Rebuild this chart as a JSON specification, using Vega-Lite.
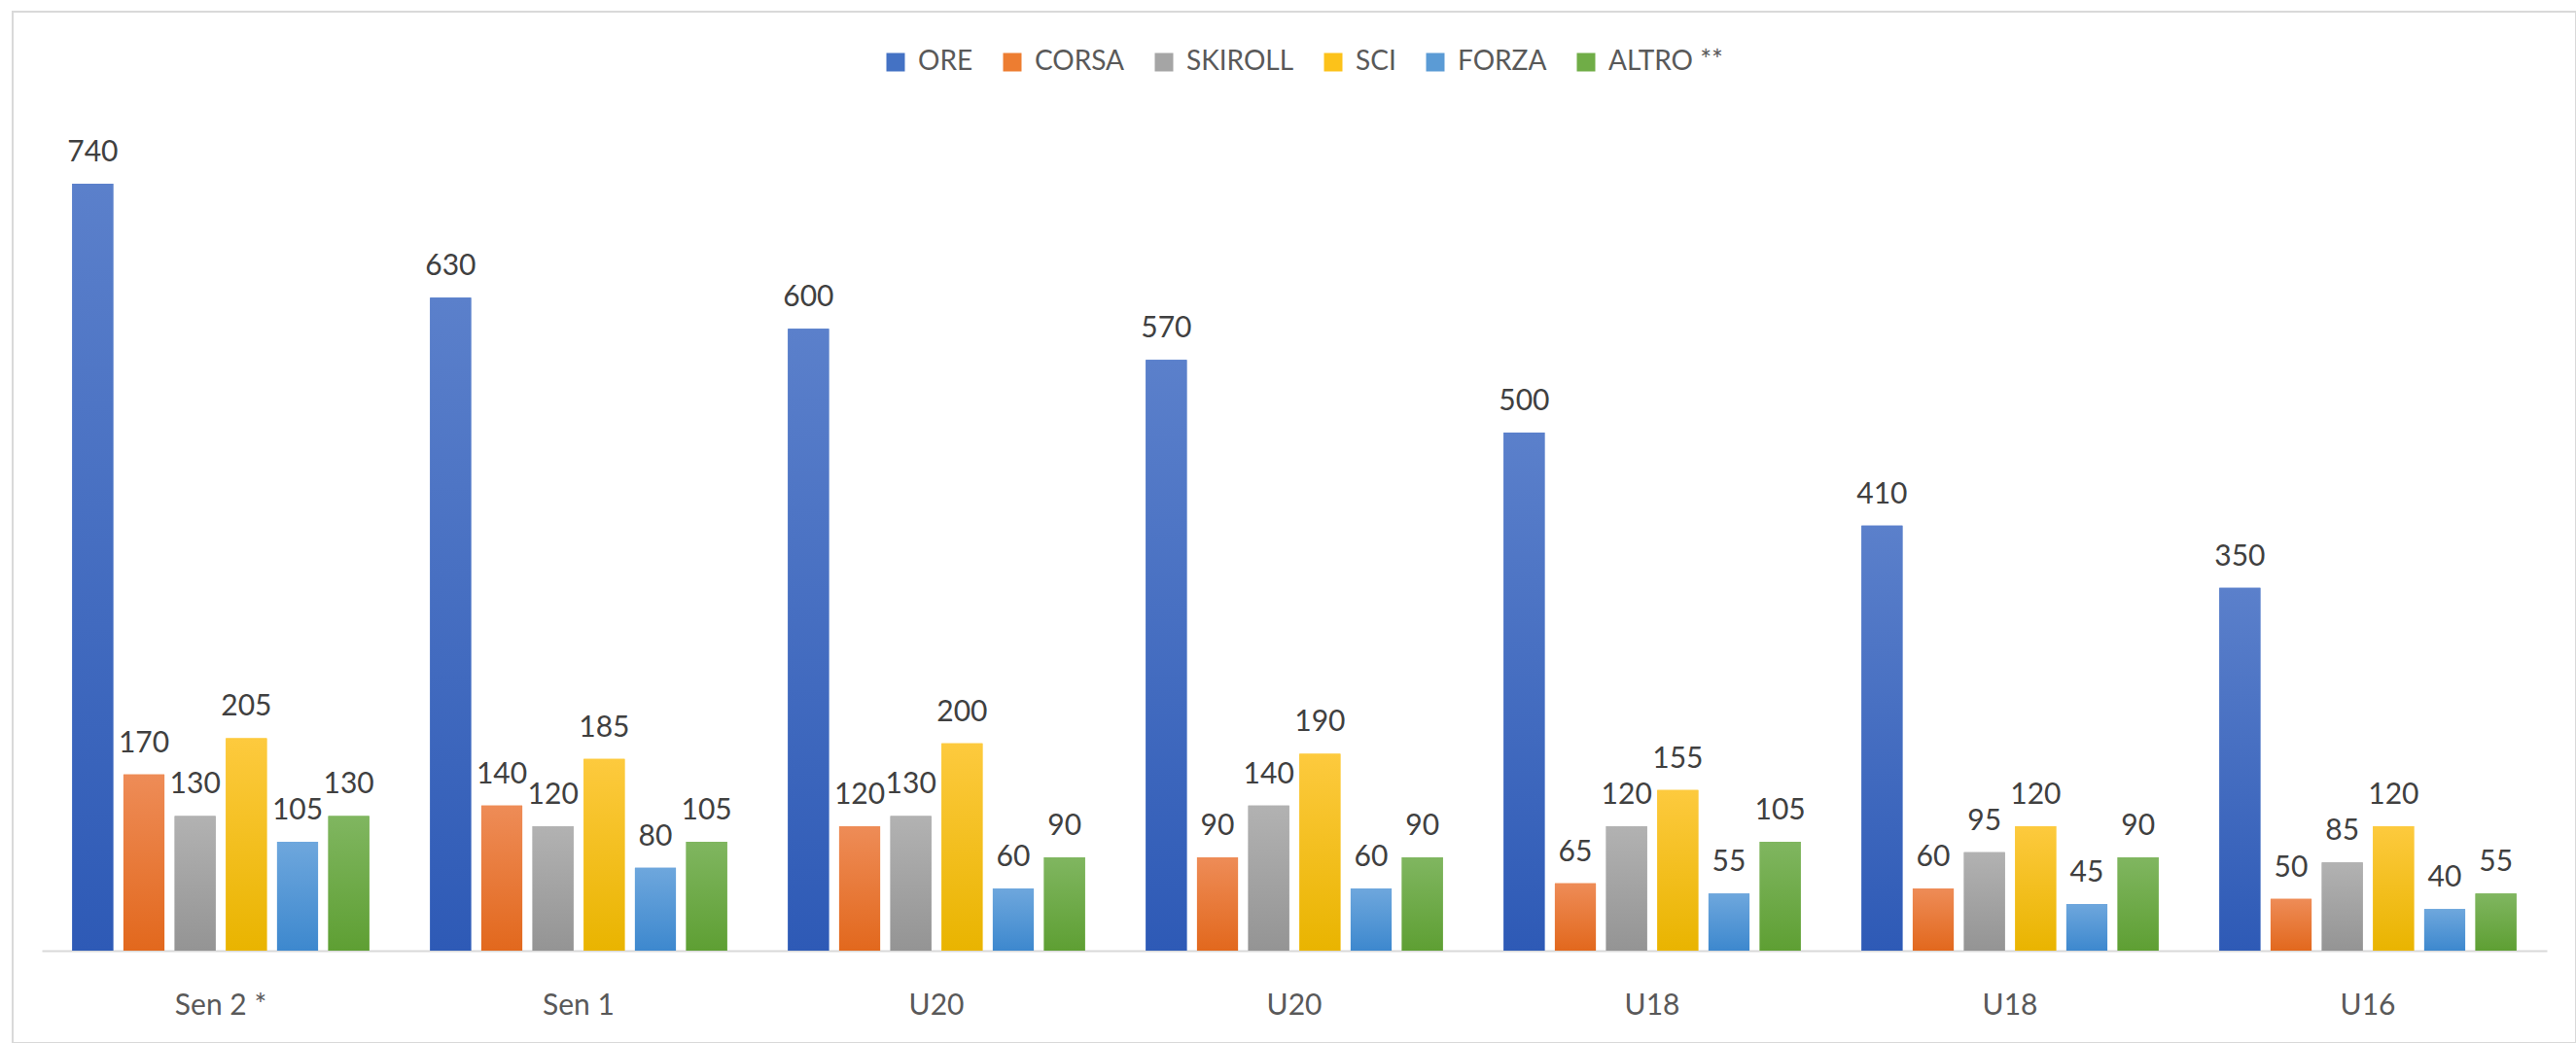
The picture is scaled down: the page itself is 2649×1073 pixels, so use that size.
{
  "$schema": "https://vega.github.io/schema/vega-lite/v6.json",
  "width": 2636,
  "height": 1061,
  "autosize": {"type": "none"},
  "padding": {"left": 13, "top": 12, "right": 0, "bottom": 0},
  "background": "white",
  "config": {"view": {"stroke": "#d9d9d9", "strokeWidth": 2}, "font": "Lato"},
  "data": {
    "values": [
      {"cat": "Sen 2 *", "series": "ORE", "value": 740},
      {"cat": "Sen 2 *", "series": "CORSA", "value": 170},
      {"cat": "Sen 2 *", "series": "SKIROLL", "value": 130},
      {"cat": "Sen 2 *", "series": "SCI", "value": 205},
      {"cat": "Sen 2 *", "series": "FORZA", "value": 105},
      {"cat": "Sen 2 *", "series": "ALTRO **", "value": 130},
      {"cat": "Sen 1", "series": "ORE", "value": 630},
      {"cat": "Sen 1", "series": "CORSA", "value": 140},
      {"cat": "Sen 1", "series": "SKIROLL", "value": 120},
      {"cat": "Sen 1", "series": "SCI", "value": 185},
      {"cat": "Sen 1", "series": "FORZA", "value": 80},
      {"cat": "Sen 1", "series": "ALTRO **", "value": 105},
      {"cat": "U20", "series": "ORE", "value": 600},
      {"cat": "U20", "series": "CORSA", "value": 120},
      {"cat": "U20", "series": "SKIROLL", "value": 130},
      {"cat": "U20", "series": "SCI", "value": 200},
      {"cat": "U20", "series": "FORZA", "value": 60},
      {"cat": "U20", "series": "ALTRO **", "value": 90},
      {"cat": "U20 ", "series": "ORE", "value": 570},
      {"cat": "U20 ", "series": "CORSA", "value": 90},
      {"cat": "U20 ", "series": "SKIROLL", "value": 140},
      {"cat": "U20 ", "series": "SCI", "value": 190},
      {"cat": "U20 ", "series": "FORZA", "value": 60},
      {"cat": "U20 ", "series": "ALTRO **", "value": 90},
      {"cat": "U18", "series": "ORE", "value": 500},
      {"cat": "U18", "series": "CORSA", "value": 65},
      {"cat": "U18", "series": "SKIROLL", "value": 120},
      {"cat": "U18", "series": "SCI", "value": 155},
      {"cat": "U18", "series": "FORZA", "value": 55},
      {"cat": "U18", "series": "ALTRO **", "value": 105},
      {"cat": "U18 ", "series": "ORE", "value": 410},
      {"cat": "U18 ", "series": "CORSA", "value": 60},
      {"cat": "U18 ", "series": "SKIROLL", "value": 95},
      {"cat": "U18 ", "series": "SCI", "value": 120},
      {"cat": "U18 ", "series": "FORZA", "value": 45},
      {"cat": "U18 ", "series": "ALTRO **", "value": 90},
      {"cat": "U16", "series": "ORE", "value": 350},
      {"cat": "U16", "series": "CORSA", "value": 50},
      {"cat": "U16", "series": "SKIROLL", "value": 85},
      {"cat": "U16", "series": "SCI", "value": 120},
      {"cat": "U16", "series": "FORZA", "value": 40},
      {"cat": "U16", "series": "ALTRO **", "value": 55}
    ]
  },
  "encoding": {
    "x": {
      "field": "cat",
      "type": "nominal",
      "sort": null,
      "scale": {"range": [30, 2606], "paddingInner": 0.17, "paddingOuter": 0.085},
      "axis": {
        "title": null,
        "labelAngle": 0,
        "ticks": false,
        "tickSize": 0,
        "domainColor": "#d9d9d9",
        "domainWidth": 2,
        "labelFont": "Lato",
        "labelFontSize": 30,
        "labelColor": "#595959",
        "labelPadding": 41,
        "offset": -95,
        "labelExpr": "trim(datum.label)"
      }
    },
    "xOffset": {
      "field": "series",
      "type": "nominal",
      "sort": ["ORE", "CORSA", "SKIROLL", "SCI", "FORZA", "ALTRO **"],
      "scale": {"domain": ["ORE", "CORSA", "SKIROLL", "SCI", "FORZA", "ALTRO **"], "paddingInner": 0.2, "paddingOuter": 0}
    },
    "y": {
      "field": "value",
      "type": "quantitative",
      "scale": {"domain": [0, 800], "range": [966, 113], "nice": false, "zero": true},
      "axis": null
    }
  },
  "layer": [
    {
      "mark": {"type": "bar"},
      "encoding": {
        "color": {
          "field": "series",
          "type": "nominal",
          "sort": ["ORE", "CORSA", "SKIROLL", "SCI", "FORZA", "ALTRO **"],
          "scale": {
            "domain": ["ORE", "CORSA", "SKIROLL", "SCI", "FORZA", "ALTRO **"],
            "range": ["#4472c4", "#ed7d31", "#a5a5a5", "#fcc21a", "#5b9bd5", "#70ad47"]
          },
          "legend": {
            "orient": "none",
            "direction": "horizontal",
            "columns": 6,
            "legendX": 894,
            "legendY": 38,
            "title": null,
            "symbolType": "square",
            "symbolSize": 361,
            "symbolStrokeWidth": 0,
            "symbolOpacity": 1,
            "labelFont": "Lato",
            "labelFontSize": 28,
            "labelColor": "#595959",
            "labelOffset": 9,
            "columnPadding": 26
          }
        }
      }
    },
    {
      "transform": [{"filter": "datum.series === 'ORE'"}],
      "mark": {"type": "bar", "color": {"gradient": "linear", "x1": 0, "y1": 0, "x2": 0, "y2": 1, "stops": [{"offset": 0, "color": "#5b80cb"}, {"offset": 1, "color": "#2e5ab6"}]}}
    },
    {
      "transform": [{"filter": "datum.series === 'CORSA'"}],
      "mark": {"type": "bar", "color": {"gradient": "linear", "x1": 0, "y1": 0, "x2": 0, "y2": 1, "stops": [{"offset": 0, "color": "#ee8c57"}, {"offset": 1, "color": "#e2681d"}]}}
    },
    {
      "transform": [{"filter": "datum.series === 'SKIROLL'"}],
      "mark": {"type": "bar", "color": {"gradient": "linear", "x1": 0, "y1": 0, "x2": 0, "y2": 1, "stops": [{"offset": 0, "color": "#b2b2b2"}, {"offset": 1, "color": "#949494"}]}}
    },
    {
      "transform": [{"filter": "datum.series === 'SCI'"}],
      "mark": {"type": "bar", "color": {"gradient": "linear", "x1": 0, "y1": 0, "x2": 0, "y2": 1, "stops": [{"offset": 0, "color": "#fdca3e"}, {"offset": 1, "color": "#e9b400"}]}}
    },
    {
      "transform": [{"filter": "datum.series === 'FORZA'"}],
      "mark": {"type": "bar", "color": {"gradient": "linear", "x1": 0, "y1": 0, "x2": 0, "y2": 1, "stops": [{"offset": 0, "color": "#6ea7dd"}, {"offset": 1, "color": "#3d88ce"}]}}
    },
    {
      "transform": [{"filter": "datum.series === 'ALTRO **'"}],
      "mark": {"type": "bar", "color": {"gradient": "linear", "x1": 0, "y1": 0, "x2": 0, "y2": 1, "stops": [{"offset": 0, "color": "#80b660"}, {"offset": 1, "color": "#5e9f33"}]}}
    },
    {
      "mark": {"type": "text", "dy": -23, "baseline": "alphabetic", "align": "center", "fontSize": 30, "font": "Lato", "color": "#404040"},
      "encoding": {"text": {"field": "value", "type": "quantitative"}}
    }
  ]
}
